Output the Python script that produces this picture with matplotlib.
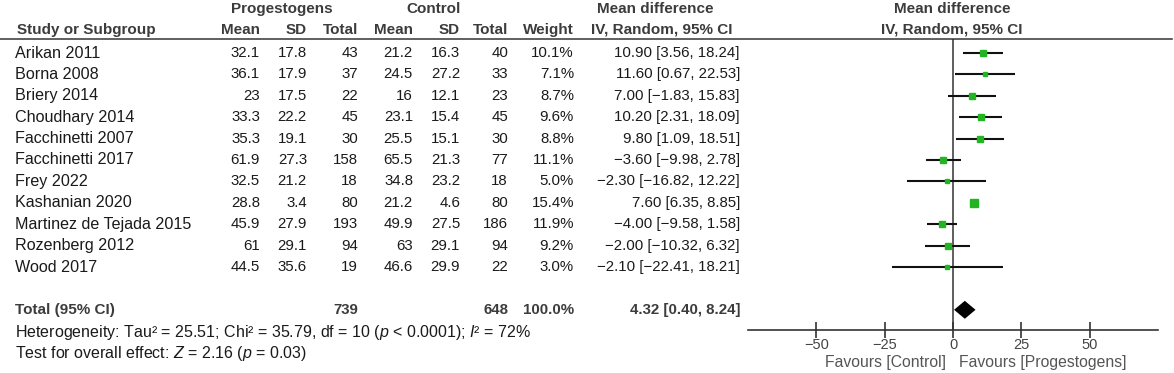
import numpy as np
import matplotlib.pyplot as plt

plt.rcParams['font.family'] = ['Liberation Sans', 'DejaVu Sans']
plt.rcParams['mathtext.fontset'] = 'custom'
plt.rcParams['mathtext.rm'] = 'Liberation Sans'
plt.rcParams['mathtext.it'] = 'Liberation Sans:italic'

studies = ['Arikan 2011', 'Borna 2008', 'Briery 2014', 'Choudhary 2014', 'Facchinetti 2007',
           'Facchinetti 2017', 'Frey 2022', 'Kashanian 2020', 'Martinez de Tejada 2015',
           'Rozenberg 2012', 'Wood 2017']
prog_mean = ['32.1', '36.1', '23', '33.3', '35.3', '61.9', '32.5', '28.8', '45.9', '61', '44.5']
prog_sd = ['17.8', '17.9', '17.5', '22.2', '19.1', '27.3', '21.2', '3.4', '27.9', '29.1', '35.6']
prog_n = [43, 37, 22, 45, 30, 158, 18, 80, 193, 94, 19]
ctrl_mean = ['21.2', '24.5', '16', '23.1', '25.5', '65.5', '34.8', '21.2', '49.9', '63', '46.6']
ctrl_sd = ['16.3', '27.2', '12.1', '15.4', '15.1', '21.3', '23.2', '4.6', '27.5', '29.1', '29.9']
ctrl_n = [40, 33, 23, 45, 30, 77, 18, 80, 186, 94, 22]
weight = [10.1, 7.1, 8.7, 9.6, 8.8, 11.1, 5.0, 15.4, 11.9, 9.2, 3.0]
md = [10.90, 11.60, 7.00, 10.20, 9.80, -3.60, -2.30, 7.60, -4.00, -2.00, -2.10]
ci_lo = [3.56, 0.67, -1.83, 2.31, 1.09, -9.98, -16.82, 6.35, -9.58, -10.32, -22.41]
ci_hi = [18.24, 22.53, 15.83, 18.09, 18.51, 2.78, 12.22, 8.85, 1.58, 6.32, 18.21]

total_prog_n = 739
total_ctrl_n = 648
total_weight = '100.0%'
total_md, total_lo, total_hi = 4.32, 0.40, 8.24

W, H = 1174, 373
def row(px):
    # pixel height -> row units
    return (px - 53) / 21.4

def fmt(v):
    return f'{v:.2f}'.replace('-', '\u2212')

fig = plt.figure(figsize=(W / 100, H / 100), dpi=100)
ax = fig.add_axes([0, 0, 1, 1])
ax.set_xlim(0, W)
ax.set_ylim(row(H), row(0))
ax.axis('off')

fs_name = 11.6
fs_head = 11
fs_num = 10.8
fs_ci = 10.8
fs_foot = 11.5
hcol = '#3c3c3c'
tcol = '#1a1a1a'
green = '#22b422'

# headers
ax.text(282, row(9), 'Progestogens', ha='center', va='center', fontsize=fs_head, fontweight='bold', color=hcol)
ax.text(434, row(9), 'Control', ha='center', va='center', fontsize=fs_head, fontweight='bold', color=hcol)
ax.text(655, row(9), 'Mean difference', ha='center', va='center', fontsize=fs_head, fontweight='bold', color=hcol)
ax.text(952, row(9), 'Mean difference', ha='center', va='center', fontsize=fs_head, fontweight='bold', color=hcol)
ax.text(17, row(30), 'Study or Subgroup', ha='left', va='center', fontsize=fs_head, fontweight='bold', color=hcol)
for x, lab in [(260, 'Mean'), (307, 'SD'), (358, 'Total'), (413, 'Mean'), (460, 'SD'),
               (508, 'Total'), (574, 'Weight')]:
    ax.text(x, row(30), lab, ha='right', va='center', fontsize=fs_head, fontweight='bold', color=hcol)
ax.text(662, row(30), 'IV, Random, 95% CI', ha='center', va='center', fontsize=fs_head, fontweight='bold', color=hcol)
ax.text(952, row(30), 'IV, Random, 95% CI', ha='center', va='center', fontsize=fs_head, fontweight='bold', color=hcol)
ax.plot([0, 1172], [row(39), row(39)], color='#444444', lw=1.2)

# study rows
for i in range(len(studies)):
    ax.text(15, i, studies[i], ha='left', va='center', fontsize=fs_name, color=tcol)
    cells = [(260, prog_mean[i]), (307, prog_sd[i]), (358, str(prog_n[i])),
             (413, ctrl_mean[i]), (460, ctrl_sd[i]), (508, str(ctrl_n[i])),
             (574, f'{weight[i]:.1f}%')]
    for x, s in cells:
        ax.text(x, i, s, ha='right', va='center', fontsize=fs_num, color=tcol)
    ax.text(740, i, f'{fmt(md[i])} [{fmt(ci_lo[i])}, {fmt(ci_hi[i])}]', ha='right', va='center',
            fontsize=fs_ci, color=tcol)

# total row
tr = 12
ax.text(15, tr, 'Total (95% CI)', ha='left', va='center', fontsize=fs_head, fontweight='bold', color=hcol)
ax.text(358, tr, str(total_prog_n), ha='right', va='center', fontsize=fs_num, fontweight='bold', color=hcol)
ax.text(508, tr, str(total_ctrl_n), ha='right', va='center', fontsize=fs_num, fontweight='bold', color=hcol)
ax.text(574, tr, total_weight, ha='right', va='center', fontsize=fs_num, fontweight='bold', color=hcol)
ax.text(740, tr, f'{fmt(total_md)} [{fmt(total_lo)}, {fmt(total_hi)}]', ha='right', va='center',
        fontsize=fs_ci, fontweight='bold', color=hcol)
ax.text(15, 13.05, r'Heterogeneity: Tau² = 25.51; Chi² = 35.79, df = 10 ($\it{p}$ < 0.0001); $\it{I}$² = 72%',
        ha='left', va='center', fontsize=fs_foot, color=tcol)
ax.text(15, 14.05, r'Test for overall effect: $\it{Z}$ = 2.16 ($\it{p}$ = 0.03)',
        ha='left', va='center', fontsize=fs_foot, color=tcol)

# forest panel
fx = fig.add_axes([748 / W, 1 - 330 / H, (1158 - 748) / W, (330 - 39) / H])
fx.patch.set_alpha(0)
fx.set_xlim(-75, 75)
fx.set_ylim(row(330), row(39))
for s in ['top', 'right', 'left']:
    fx.spines[s].set_visible(False)
fx.spines['bottom'].set_color('#333333')
fx.spines['bottom'].set_linewidth(1.2)
fx.set_yticks([])
fx.set_xticks([-50, -25, 0, 25, 50])
fx.tick_params(axis='x', direction='inout', length=11, width=1.2, pad=0, labelsize=10.5,
               colors='#333333', labelcolor='#444444')
fx.axvline(0, color='#333333', lw=1.1)

for i in range(len(studies)):
    fx.plot([ci_lo[i], ci_hi[i]], [i, i], color='#111111', lw=1.5, solid_capstyle='butt')
    fx.plot(md[i], i, marker='s', ms=1.35 * np.sqrt(weight[i]), color=green, mec=green, lw=0)

fx.fill([total_lo, total_md, total_hi, total_md], [tr, tr - 0.42, tr, tr + 0.42], color='black', lw=0)

ax.text(946, row(363), 'Favours [Control]', ha='right', va='center', fontsize=11.3, color='#555555')
ax.text(959, row(363), 'Favours [Progestogens]', ha='left', va='center', fontsize=11.3, color='#555555')

fig.savefig('out.png', dpi=100)
